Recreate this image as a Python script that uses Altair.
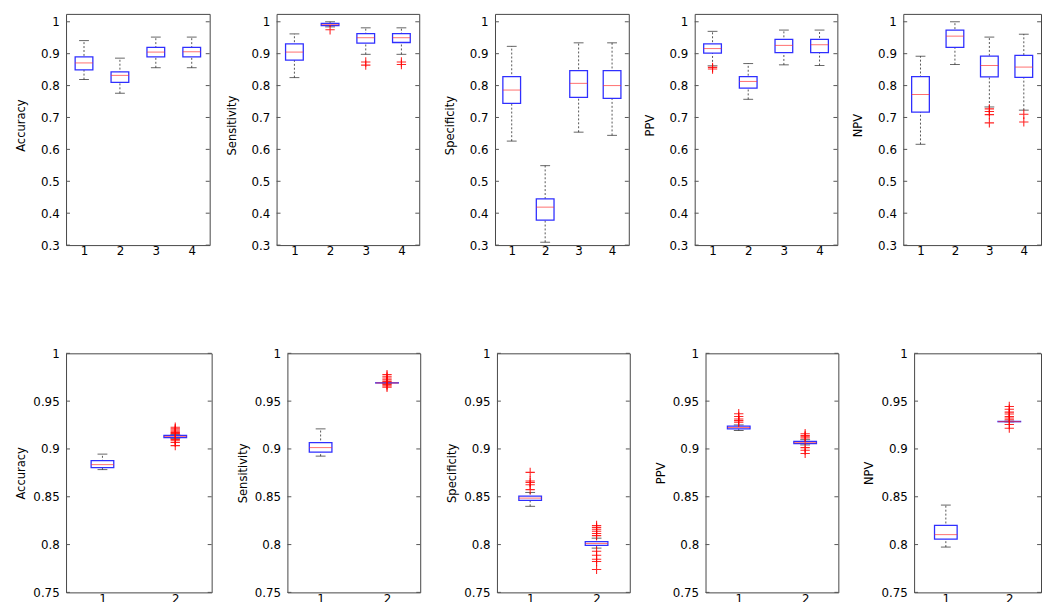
import altair as alt
import pandas as pd

# ---------------- data ----------------
metrics = ["Accuracy", "Sensitivity", "Specificity", "PPV", "NPV"]

top_groups = [1, 2, 3, 4]
top_lower = [
    [0.819, 0.776, 0.856, 0.856],
    [0.825, 0.984, 0.898, 0.898],
    [0.626, 0.309, 0.654, 0.644],
    [0.862, 0.757, 0.865, 0.863],
    [0.616, 0.866, 0.733, 0.723],
]
top_q1 = [
    [0.849, 0.810, 0.890, 0.890],
    [0.880, 0.988, 0.933, 0.935],
    [0.744, 0.378, 0.763, 0.760],
    [0.902, 0.792, 0.903, 0.903],
    [0.717, 0.920, 0.827, 0.826],
]
top_median = [
    [0.871, 0.832, 0.905, 0.906],
    [0.905, 0.991, 0.950, 0.950],
    [0.786, 0.419, 0.807, 0.800],
    [0.916, 0.813, 0.926, 0.928],
    [0.772, 0.955, 0.863, 0.858],
]
top_q3 = [
    [0.890, 0.843, 0.920, 0.920],
    [0.931, 0.995, 0.963, 0.963],
    [0.828, 0.445, 0.847, 0.847],
    [0.931, 0.828, 0.945, 0.945],
    [0.828, 0.974, 0.892, 0.895],
]
top_upper = [
    [0.941, 0.886, 0.952, 0.952],
    [0.962, 1.000, 0.981, 0.981],
    [0.923, 0.549, 0.934, 0.934],
    [0.970, 0.869, 0.974, 0.974],
    [0.892, 1.000, 0.952, 0.961],
]
top_outlier_group = [
    [],
    [2, 3, 3, 4, 4],
    [],
    [1, 1],
    [3, 3, 3, 3, 4, 4],
]
top_outlier_value = [
    [],
    [0.975, 0.874, 0.864, 0.874, 0.866],
    [],
    [0.857, 0.852],
    [0.727, 0.719, 0.709, 0.683, 0.710, 0.686],
]
top_yticks = [0.3, 0.4, 0.5, 0.6, 0.7, 0.8, 0.9, 1]

bottom_groups = [1, 2]
bottom_lower = [
    [0.8784, 0.9108],
    [0.8925, 0.9690],
    [0.8400, 0.7963],
    [0.9193, 0.9042],
    [0.7974, 0.9283],
]
bottom_q1 = [
    [0.8805, 0.9118],
    [0.8966, 0.9690],
    [0.8462, 0.7991],
    [0.9210, 0.9056],
    [0.8056, 0.9285],
]
bottom_median = [
    [0.8836, 0.9131],
    [0.9014, 0.9690],
    [0.8486, 0.8012],
    [0.9224, 0.9066],
    [0.8104, 0.9286],
]
bottom_q3 = [
    [0.8877, 0.9141],
    [0.9066, 0.9692],
    [0.8506, 0.8032],
    [0.9238, 0.9080],
    [0.8200, 0.9288],
]
bottom_upper = [
    [0.8946, 0.9152],
    [0.9210, 0.9692],
    [0.8545, 0.8067],
    [0.9251, 0.9097],
    [0.8413, 0.9290],
]
bottom_outlier_group = [
    [2] * 10,
    [2] * 8,
    [1] * 5 + [2] * 11,
    [1] * 5 + [2] * 7,
    [2] * 9,
]
bottom_outlier_value = [
    [0.9227, 0.9212, 0.9198, 0.9185, 0.9172, 0.9163, 0.9098, 0.9085, 0.9068, 0.9035],
    [0.9778, 0.9760, 0.9742, 0.9722, 0.9705, 0.9675, 0.9660, 0.9645],
    [0.8755, 0.8665, 0.8650, 0.8625, 0.8575,
     0.8200, 0.8180, 0.8160, 0.8139, 0.8115, 0.8094, 0.7930, 0.7888, 0.7847, 0.7823, 0.7740],
    [0.9368, 0.9340, 0.9313, 0.9296, 0.9279,
     0.9159, 0.9141, 0.9128, 0.9114, 0.9014, 0.8987, 0.8953],
    [0.9444, 0.9416, 0.9385, 0.9365, 0.9340, 0.9323, 0.9306, 0.9255, 0.9217],
]
bottom_yticks = [0.75, 0.8, 0.85, 0.9, 0.95, 1]

# ---------------- style ----------------
LABEL_FONT = "DejaVu Sans"
TITLE_FONT = "Liberation Sans Narrow, DejaVu Sans Condensed, Liberation Sans, sans-serif"
BOX_BLUE = "#2f2fff"
MED_RED = "#ff3030"
OUT_RED = "#ff0000"
WHISK = "#555555"
CROSS = "M-1,0L1,0M0,-1L0,1"


def panel(title, groups, lower, q1, med, q3, upper, og, ov, yticks, ydomain,
          width, height, ext, box_w, cap_w, title_y=None):
    df = pd.DataFrame({"g": groups, "lower": lower, "q1": q1, "med": med,
                       "q3": q3, "upper": upper})
    xdomain = [0.5, len(groups) + 0.5]
    xs = alt.Scale(domain=xdomain, nice=False, zero=False, padding=0)
    ys = alt.Scale(domain=ydomain, nice=False, zero=False, padding=0)
    xaxis = alt.Axis(values=groups, format="d", title=None, ticks=False, tickSize=0,
                     domain=False, grid=False, labelPadding=1, labelFont=LABEL_FONT,
                     labelFontSize=12, labelColor="#000", minExtent=18, maxExtent=18)
    yaxis_kw = dict(values=yticks, format="~g", title=title, ticks=False, tickSize=0,
                    domain=False, grid=False, labelPadding=7, labelFont=LABEL_FONT,
                    labelFontSize=12, labelColor="#000", minExtent=ext, maxExtent=ext,
                    titleFont=TITLE_FONT, titleFontSize=13, titleFontWeight="normal",
                    titleColor="#000", titleX=-46, titleAngle=270, titleAlign="center",
                    titleBaseline="middle")
    if title_y is not None:
        yaxis_kw["titleY"] = title_y
    yaxis = alt.Axis(**yaxis_kw)
    X = alt.X("g:Q", scale=xs, axis=xaxis)

    def Y(field):
        return alt.Y(field, scale=ys, axis=yaxis)

    base = alt.Chart(df)

    whisk = base.mark_rule(color=WHISK, strokeDash=[2, 2], strokeWidth=1).encode(
        x=X, y=Y("lower:Q"), y2="upper:Q")
    cap_lo = base.mark_tick(color="#222", size=cap_w, thickness=1, orient="horizontal").encode(
        x=X, y=Y("lower:Q"))
    cap_hi = base.mark_tick(color="#222", size=cap_w, thickness=1, orient="horizontal").encode(
        x=X, y=Y("upper:Q"))
    box = base.mark_bar(size=box_w, fill="white", stroke=BOX_BLUE, strokeWidth=1.3,
                        orient="vertical").encode(
        x=X, y=Y("q1:Q"), y2="q3:Q")
    median = base.mark_tick(color=MED_RED, size=box_w, thickness=1, orient="horizontal").encode(
        x=X, y=Y("med:Q"))

    tdf = pd.DataFrame({"t": yticks})
    tick_l = alt.Chart(tdf).mark_rule(color="#555").encode(
        x=alt.value(0), x2=alt.value(4), y=Y("t:Q"))
    tick_r = alt.Chart(tdf).mark_rule(color="#555").encode(
        x=alt.value(width - 4), x2=alt.value(width), y=Y("t:Q"))

    layers = [whisk, cap_lo, cap_hi, box, median, tick_l, tick_r]
    if len(ov) > 0:
        odf = pd.DataFrame({"g": og, "v": ov})
        outl = alt.Chart(odf).mark_point(shape=CROSS, size=90, color=OUT_RED, filled=False,
                                         strokeWidth=1.1, opacity=0.85).encode(
            x=X, y=Y("v:Q"))
        layers.append(outl)
    return alt.layer(*layers).properties(width=width, height=height)


top_widths = [146, 145, 136, 145, 140]
top_ext = [58, 56, 65, 55, 55]
bot_widths = [148, 135, 135, 135, 129]
bot_ext = [57, 65, 66, 65, 65]

TOP_H = 235
top_domain = [0.3, 1 + 8 / 324.3]
BOT_H = 243
bot_domain = [0.75, 1.0]

top_panels = [
    panel(metrics[i], top_groups, top_lower[i], top_q1[i], top_median[i], top_q3[i],
          top_upper[i], top_outlier_group[i], top_outlier_value[i], top_yticks, top_domain,
          top_widths[i], TOP_H, top_ext[i], 18, 10, title_y=113)
    for i in range(5)
]
bottom_panels = [
    panel(metrics[i], bottom_groups, bottom_lower[i], bottom_q1[i], bottom_median[i],
          bottom_q3[i], bottom_upper[i], bottom_outlier_group[i], bottom_outlier_value[i],
          bottom_yticks, bot_domain, bot_widths[i], BOT_H, bot_ext[i], 23, 10)
    for i in range(5)
]

row1 = alt.hconcat(*top_panels, spacing=10)
row2 = alt.hconcat(*bottom_panels, spacing=10)

chart = alt.vconcat(row1, row2, spacing=84).properties(
    padding={"left": 0, "top": 0, "right": 0, "bottom": 0}
).configure(
    background="white",
    view=alt.ViewConfig(stroke="#444", strokeWidth=1),
)

chart.save("out.html", embed_options={"renderer": "svg", "actions": False})
